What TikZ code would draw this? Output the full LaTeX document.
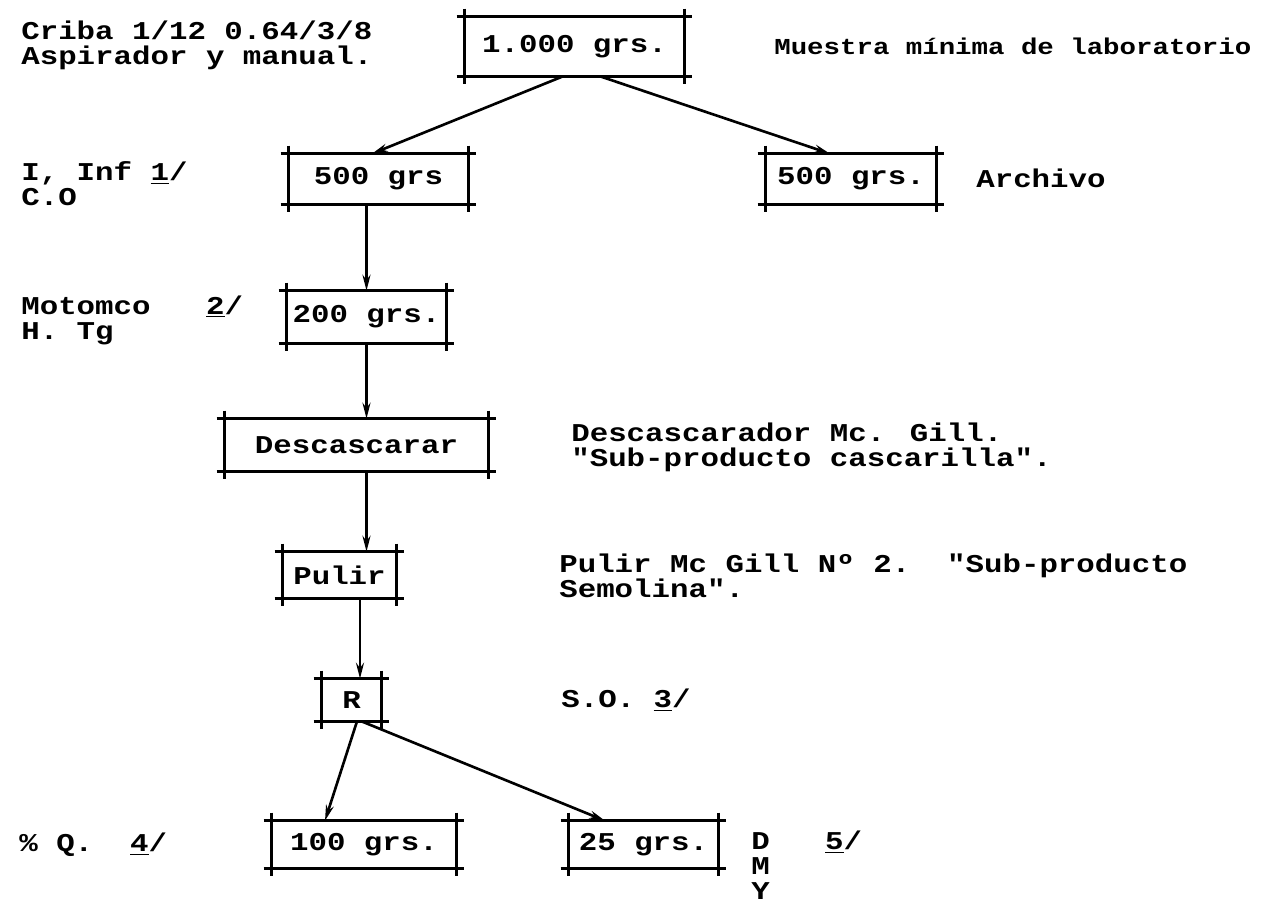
\documentclass[tikz,border=0pt]{standalone}
\usepackage{fontspec}
\usepackage{tikz}
\usetikzlibrary{positioning,arrows.meta}
\newfontfamily\tw[FakeStretch=1.2]{Liberation Mono}
\newcommand{\tsize}{\fontsize{14.6}{14.2}\selectfont}
\newcommand{\cornerframe}[1]{%
  \draw ([xshift=-0.16cm]#1.north west) -- ([xshift=0.16cm]#1.north east);
  \draw ([xshift=-0.16cm]#1.south west) -- ([xshift=0.16cm]#1.south east);
  \draw ([yshift=0.16cm]#1.north west) -- ([yshift=-0.16cm]#1.south west);
  \draw ([yshift=0.16cm]#1.north east) -- ([yshift=-0.16cm]#1.south east);}
\tikzset{
  caja/.style={inner sep=0pt, font=\tw\bfseries\tsize},
  nota/.style={inner sep=0pt, anchor=west, align=left, font=\tw\bfseries\tsize},
  flecha/.style={-{Stealth[length=9pt,width=4.5pt]}}
}
\begin{document}
\begin{tikzpicture}[x=0.02cm, y=-0.02cm, line width=1.5pt]
        \useasboundingbox (0,0) rectangle (1270,903);
        % Cajas
        \node[caja, minimum width=4.34cm, minimum height=1.14cm] (mil) at (574.5,46.5) {1.000 grs.};
        \node[caja, minimum width=3.54cm, minimum height=0.96cm] (quiI) at (378.5,179) {500 grs};
        \node[caja, minimum width=3.36cm, minimum height=0.96cm] (quiD) at (851,179) {500 grs.};
        \node[caja, minimum width=3.14cm, minimum height=1.00cm] (dos) at (366.5,317) {200 grs.};
        \node[caja, minimum width=5.22cm, minimum height=1.00cm] (desc) at (356.5,445) {Descascarar};
        \node[caja, minimum width=2.22cm, minimum height=0.88cm] (pul) at (339.5,575) {Pulir};
        \node[caja, minimum width=1.14cm, minimum height=0.80cm] (res) at (351.5,700) {R};
        \node[caja, minimum width=3.64cm, minimum height=0.90cm] (cien) at (364,844.5) {100 grs.};
        \node[caja, minimum width=2.94cm, minimum height=0.90cm] (vei) at (643.5,844.5) {25 grs.};
        \cornerframe{mil}
        \cornerframe{quiI}
        \cornerframe{quiD}
        \cornerframe{dos}
        \cornerframe{desc}
        \cornerframe{pul}
        \cornerframe{res}
        \cornerframe{cien}
        \cornerframe{vei}
        % Flechas
        \draw[flecha] ([xshift=-0.23cm]mil.south) -- ([xshift=-0.13cm]quiI.north);
        \draw[flecha] ([xshift=0.51cm]mil.south) -- ([xshift=-0.42cm]quiD.north);
        \draw[flecha] (dos.north |- quiI.south) -- (dos.north);
        \draw[flecha] (dos.south) -- (dos.south |- desc.north);
        \draw[flecha] (desc.south -| dos.south) -- (pul.north -| dos.south);
        \draw[flecha] ([xshift=0.17cm]res.north |- pul.south) -- ([xshift=0.17cm]res.north);
        \draw[flecha] ([xshift=0.11cm]res.south) -- ([xshift=-0.78cm]cien.north);
        \draw[flecha] ([xshift=0.2cm]res.south) -- ([xshift=-0.77cm]vei.north);
        % Notas izquierda
        \node[nota] (criba) at (20,45) {Criba 1/12 0.64/3/8\\Aspirador y manual.};
        \node[nota] (inf) at (20,184) {I, Inf \underline{1}/\\C.O};
        \node[nota] (moto) at (20,320) {Motomco\ \ \ \underline{2}/\\H. Tg};
        \node[nota] (pq) at (18,845) {\%\ Q.\ \ \underline{4}/};
        % Notas derecha
        \node[nota, font=\tw\bfseries\fontsize{13}{14.2}\selectfont] (muestra) at (773,46) {Muestra mínima de laboratorio};
        \node[nota] (arch) at (975,178) {Archivo};
        \node[nota] (descM) at (570,447) {Descascarador Mc. Gill.\\"Sub-producto cascarilla".};
        \node[nota] (pulM) at (558,576) {Pulir Mc Gill Nº 2.\ \ "Sub-producto\\Semolina".};
        \node[nota] (so) at (560,700) {S.O.\ \underline{3}/};
        \node[nota] (dmy) at (750,865) {D\ \ \ \underline{5}/\\M\\Y};
\end{tikzpicture}
\end{document}
